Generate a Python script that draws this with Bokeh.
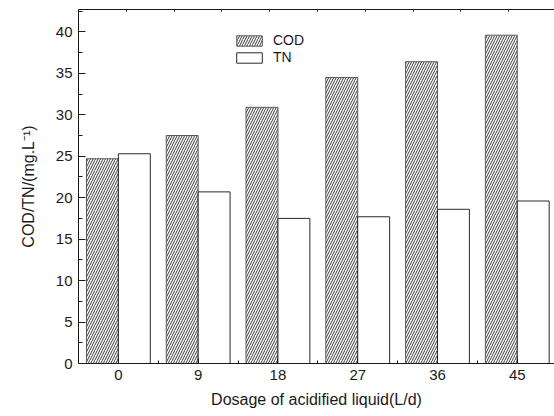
from bokeh.embed import file_html
from bokeh.models import (ColumnDataSource, FixedTicker, Legend, LegendItem,
                          LinearAxis, Range1d, SingleIntervalTicker)
from bokeh.plotting import figure
from bokeh.resources import INLINE
from bokeh.transform import dodge

# Dosage of acidified liquid (L/d) and measured concentrations (mg/L)
dosage = [0, 9, 18, 27, 36, 45]
cod = [24.7, 27.5, 30.9, 34.5, 36.4, 39.6]
tn = [25.3, 20.7, 17.5, 17.7, 18.6, 19.6]
tick_labels = ["0", "9", "18", "27", "36", "45"]

FONT = "Liberation Sans"
INK = "#1a1a1a"

source = ColumnDataSource(data=dict(dosage=dosage, cod=cod, tn=tn))

p = figure(
    width=554, height=416,
    x_range=Range1d(-4.5, 49.2), y_range=Range1d(0, 42.7),
    output_backend="svg", toolbar_location=None,
    min_border_left=78, min_border_right=0, min_border_top=9, min_border_bottom=53,
)
p.outline_line_color = None
p.xgrid.visible = False
p.ygrid.visible = False
p.background_fill_color = "white"
p.border_fill_color = "white"

bar_w = 3.6
r_cod = p.vbar(x=dodge("dosage", -bar_w / 2), top="cod", width=bar_w, bottom=0,
               source=source, fill_color="white", line_color="#5a5a5a", line_width=1,
               hatch_pattern="/", hatch_color="#222222", hatch_scale=5, hatch_weight=0.9)
r_tn = p.vbar(x=dodge("dosage", bar_w / 2), top="tn", width=bar_w, bottom=0,
              source=source, fill_color="white", line_color="#2a2a2a", line_width=1)

# bottom axis: a tick on every dosage, minor ticks halfway between
mids = [(a + b) / 2 for a, b in zip(dosage[:-1], dosage[1:])]
xa = p.xaxis[0]
xa.ticker = FixedTicker(ticks=dosage, minor_ticks=mids)
xa.major_label_overrides = {d: t for d, t in zip(dosage, tick_labels)}
xa.axis_label = "Dosage of acidified liquid(L/d)"

ya = p.yaxis[0]
ya.ticker = SingleIntervalTicker(interval=5, num_minor_ticks=2)
ya.axis_label = "COD/TN/(mg.L⁻¹)"

for ax in (xa, ya):
    ax.axis_line_color = INK
    ax.axis_line_width = 1
    ax.major_tick_line_color = INK
    ax.minor_tick_line_color = INK
    ax.major_tick_out = 0
    ax.minor_tick_out = 0
    ax.major_label_text_font = FONT
    ax.major_label_text_font_size = "15px"
    ax.major_label_text_color = INK
    ax.axis_label_text_font = FONT
    ax.axis_label_text_font_size = "16px"
    ax.axis_label_text_font_style = "normal"
    ax.axis_label_text_color = INK

xa.major_tick_in = 5
xa.minor_tick_in = 3
xa.major_label_standoff = 6
xa.axis_label_standoff = 8
ya.major_tick_in = 7
ya.minor_tick_in = 4
ya.major_label_standoff = 6
ya.axis_label_standoff = 16

# thin top frame edge with fine ticks at ten equal steps (no labels)
p.extra_x_ranges = {"top": Range1d(0, 9.96)}
top = LinearAxis(x_range_name="top",
                 ticker=FixedTicker(ticks=[], minor_ticks=list(range(1, 10))),
                 major_tick_in=0, major_tick_out=0, minor_tick_in=2, minor_tick_out=0,
                 axis_line_color=INK, minor_tick_line_color=INK)
p.add_layout(top, "above")

legend = Legend(
    items=[LegendItem(label="COD", renderers=[r_cod]),
           LegendItem(label="TN", renderers=[r_tn])],
    location=(155, 298), orientation="vertical",
    glyph_width=32, glyph_height=13, label_standoff=8, spacing=1,
    padding=0, margin=0, border_line_color=None, background_fill_alpha=0,
    label_text_font=FONT, label_text_font_size="14px", label_text_color=INK,
    label_height=13,
)
p.add_layout(legend)

open("out.html", "w").write(file_html(p, INLINE))
